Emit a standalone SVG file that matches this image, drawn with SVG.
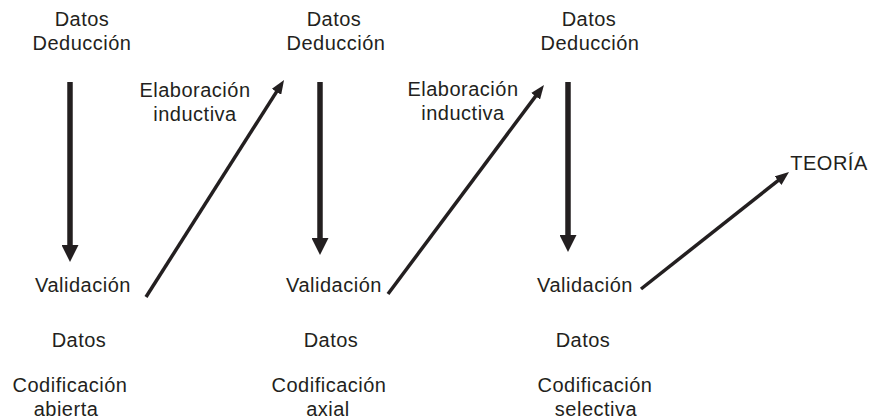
<svg xmlns="http://www.w3.org/2000/svg" width="871" height="420" viewBox="0 0 871 420">
<style>
text{font-family:"Liberation Sans",Arial,sans-serif;font-size:20px;letter-spacing:0.5px;fill:#231f20;text-anchor:middle}
.down{stroke:#231f20;stroke-width:5.5;fill:none}
.diag{stroke:#231f20;stroke-width:3.5;fill:none}
</style>
<defs>
<marker id="bighead" markerUnits="userSpaceOnUse" viewBox="0 0 17 17" markerWidth="17" markerHeight="17" refX="1" refY="8.5" orient="auto">
<path d="M0,0 L17,8.5 L0,17 z" fill="#231f20"/>
</marker>
<marker id="smallhead" markerUnits="userSpaceOnUse" viewBox="0 0 14 11" markerWidth="14" markerHeight="11" refX="2" refY="5.5" orient="auto">
<path d="M0,0 L14,5.5 L0,11 z" fill="#231f20"/>
</marker>
</defs>
<rect width="871" height="420" fill="#fff"/>
<g id="datos-deduccion-1"><text x="82" y="26">Datos</text><text x="82" y="50">Deducción</text></g>
<g id="datos-deduccion-2"><text x="334" y="26">Datos</text><text x="336" y="50">Deducción</text></g>
<g id="datos-deduccion-3"><text x="589" y="26">Datos</text><text x="590" y="50">Deducción</text></g>
<g id="elaboracion-1"><text x="195" y="97">Elaboración</text><text x="195" y="121">inductiva</text></g>
<g id="elaboracion-2"><text x="463" y="96">Elaboración</text><text x="463" y="120">inductiva</text></g>
<g id="teoria"><text x="829" y="170">TEORÍA</text></g>
<g id="validacion-1"><text x="83" y="292">Validación</text></g>
<g id="validacion-2"><text x="334" y="292">Validación</text></g>
<g id="validacion-3"><text x="585" y="292">Validación</text></g>
<g id="codificacion-abierta"><text x="79" y="347">Datos</text><text x="70" y="392">Codificación</text><text x="66" y="416">abierta</text></g>
<g id="codificacion-axial"><text x="331" y="347">Datos</text><text x="329" y="392">Codificación</text><text x="328" y="416">axial</text></g>
<g id="codificacion-selectiva"><text x="583" y="347">Datos</text><text x="595" y="392">Codificación</text><text x="596" y="416">selectiva</text></g>
<g id="connectors">
<line class="down" x1="70" y1="82" x2="70" y2="246" marker-end="url(#bighead)"/>
<line class="down" x1="320" y1="82" x2="320" y2="239" marker-end="url(#bighead)"/>
<line class="down" x1="568" y1="82" x2="568" y2="236" marker-end="url(#bighead)"/>
<line class="diag" x1="146" y1="297" x2="277.6" y2="90.1" marker-end="url(#smallhead)"/>
<line class="diag" x1="388" y1="294" x2="536.8" y2="94.6" marker-end="url(#smallhead)"/>
<line class="diag" x1="641" y1="289" x2="779.6" y2="179.4" marker-end="url(#smallhead)"/>
</g>
</svg>
